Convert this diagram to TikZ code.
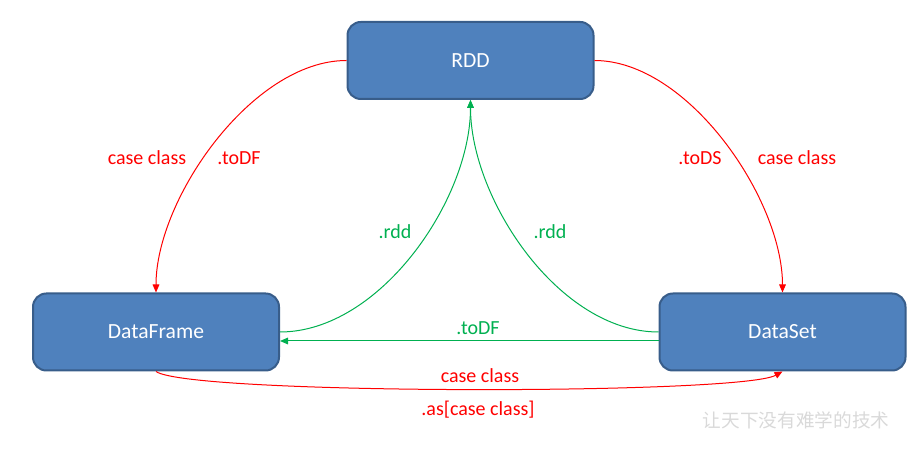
\documentclass[tikz,border=0pt]{standalone}
\usepackage{fontspec}
\setmainfont{Carlito}
\newfontfamily\cjk{Noto Sans CJK SC}
\usetikzlibrary{arrows.meta}
\definecolor{boxblue}{HTML}{4F81BD}
\definecolor{boxedge}{HTML}{385D8A}
\definecolor{flowred}{HTML}{FF0000}
\definecolor{flowgreen}{HTML}{00B050}

\begin{document}
\begin{tikzpicture}[x=0.75pt, y=0.75pt,
  box/.style={draw=boxedge, line width=1.5pt, rounded corners=10pt, fill=boxblue,
              minimum width=246*0.75pt, minimum height=77*0.75pt, text=white,
              font=\fontsize{16.2}{19}\selectfont},
  redflow/.style={-{Triangle[length=6pt,width=5pt]}, line width=0.75pt, flowred},
  greenflow/.style={-{Triangle[length=6pt,width=5pt]}, line width=0.75pt, flowgreen},
  redlabel/.style={text=flowred, font=\fontsize{15}{18}\selectfont},
  greenlabel/.style={text=flowgreen, font=\fontsize{15}{18}\selectfont}]
\useasboundingbox (0,0) rectangle (918,453);
\node[box] (rdd) at (470.5,392.5) {RDD};
\node[box] (df)  at (156,121) {DataFrame};
\node[box] (ds)  at (782.5,121) {DataSet};
% red: RDD -> DataFrame / DataSet, DataFrame -> DataSet
\draw[redflow] (rdd.west) to[out=180, in=90, looseness=0.8] (df.north);
\draw[redflow] (rdd.east) to[out=0, in=90, looseness=0.8] (ds.north);
\draw[redflow] (df.south) .. controls (190,58) and (740,58) .. (ds.south);
% green: back to RDD, DataSet -> DataFrame
\draw[greenflow] (df.east) to[out=0, in=-90, looseness=0.85] (rdd.south);
\draw[greenflow] (ds.west) to[out=180, in=-90, looseness=0.85] (rdd.south);
\draw[greenflow] ([yshift=-6.75pt]ds.west) -- ([yshift=-6.75pt]df.east);
% labels
\node[redlabel] (lcc1) at (147,295) {case class};
\node[redlabel] (ltodf) at (239,295) {.toDF};
\node[redlabel] (ltods) at (700,295) {.toDS};
\node[redlabel] (lcc2) at (797,295) {case class};
\node[greenlabel] (lrdd1) at (395,221) {.rdd};
\node[greenlabel] (lrdd2) at (550,221) {.rdd};
\node[greenlabel] (ltodf2) at (478,125) {.toDF};
\node[redlabel] (lcc3) at (480,77) {case class};
\node[redlabel] (las) at (478,43) {.as[case class]};
\node[text=black!15, font=\cjk\fontsize{14}{17}\selectfont] (mark) at (796,33) {让天下没有难学的技术};
\end{tikzpicture}
\end{document}
